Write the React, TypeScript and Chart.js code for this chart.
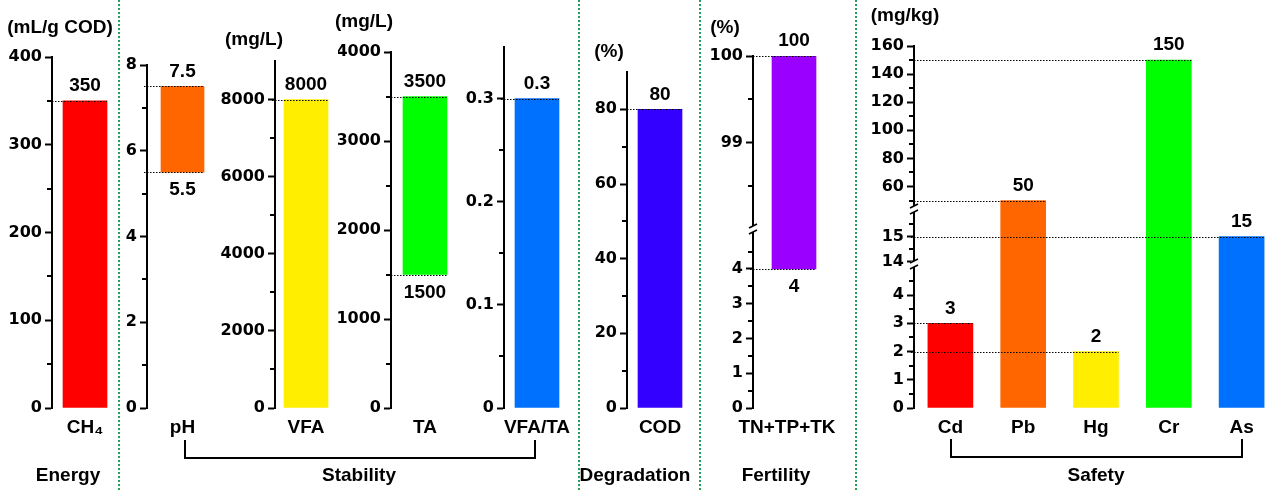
import React, { useEffect, useRef } from 'react';
import { Chart, registerables } from 'chart.js';

Chart.register(...registerables);

// values
const energyCategories = ['CH₄'];
const energyValues = [350];
const energyTicks = [0, 100, 200, 300, 400];

const phCategories = ['pH'];
const phRange: [number, number] = [5.5, 7.5];
const phTicks = [0, 2, 4, 6, 8];

const vfaCategories = ['VFA'];
const vfaValues = [8000];
const vfaTicks = [0, 2000, 4000, 6000, 8000];

const taCategories = ['TA'];
const taRange: [number, number] = [1500, 3500];
const taTicks = [0, 1000, 2000, 3000, 4000];

const ratioCategories = ['VFA/TA'];
const ratioValues = [0.3];
const ratioTicks = [0, 0.1, 0.2, 0.3];

const codCategories = ['COD'];
const codValues = [80];
const codTicks = [0, 20, 40, 60, 80];

const nutrientCategories = ['TN+TP+TK'];
const nutrientRange: [number, number] = [4, 100];
const nutrientTicksLow = [0, 1, 2, 3, 4];
const nutrientTicksHigh = [99, 100];

const metalCategories = ['Cd', 'Pb', 'Hg', 'Cr', 'As'];
const metalValues = [3, 50, 2, 150, 15];
const metalTicksLow = [0, 1, 2, 3, 4];
const metalTicksMid = [14, 15];
const metalTicksHigh = [60, 80, 100, 120, 140, 160];

const unitTexts = ['(mL/g COD)', '(mg/L)', '(mg/L)', '(%)', '(%)', '(mg/kg)'];
const groupTexts = ['Energy', 'Stability', 'Degradation', 'Fertility', 'Safety'];

// layout / style
const unitPos = [[60, 26], [254, 38], [364, 20], [609, 50], [725, 26], [905, 14]];
const groupPos = [[68, 474], [359, 474], [635, 474], [776, 474], [1096, 474]];
const separators = [119, 579, 700, 856];
const brackets = [[184, 440, 352], [950, 439, 293]];

const TEXT_FAMILY = '"Liberation Sans", Arial, "DejaVu Sans", sans-serif';
const TICK_FONT = { family: '"DejaVu Sans", sans-serif', size: 16, weight: 'bold' as const };
const LABEL_FONT = { family: TEXT_FAMILY, size: 19, weight: 'bold' as const };
const BOTTOM = 408;
const H = 490;

type Segment = { min: number; max: number; ticks: number[]; minor: number; weight: number };
type Panel = {
  left: number; axisX: number; right: number; top: number; barWidth: number; labelOffset: number;
  categories: string[]; bars: [number, number][]; colors: string[]; segments: Segment[];
};

const fromZero = (vals: number[]) => vals.map((v) => [0, v] as [number, number]);

const panels: Panel[] = [
  { left: 0, axisX: 52, right: 118, top: 57, barWidth: 44, labelOffset: 0,
    categories: energyCategories, bars: fromZero(energyValues), colors: ['#FF0000'],
    segments: [{ min: 0, max: 400, ticks: energyTicks, minor: 50, weight: 1 }] },
  { left: 120, axisX: 147, right: 218, top: 65, barWidth: 43, labelOffset: 0,
    categories: phCategories, bars: [phRange], colors: ['#FF6600'],
    segments: [{ min: 0, max: 8, ticks: phTicks, minor: 1, weight: 1 }] },
  { left: 219, axisX: 275, right: 337, top: 61, barWidth: 44, labelOffset: 0,
    categories: vfaCategories, bars: fromZero(vfaValues), colors: ['#FFEE00'],
    segments: [{ min: 0, max: 9000, ticks: vfaTicks, minor: 1000, weight: 1 }] },
  { left: 338, axisX: 391, right: 459, top: 52, barWidth: 44, labelOffset: 0,
    categories: taCategories, bars: [taRange], colors: ['#00FF00'],
    segments: [{ min: 0, max: 4000, ticks: taTicks, minor: 500, weight: 1 }] },
  { left: 460, axisX: 504, right: 570, top: 47, barWidth: 44, labelOffset: 0,
    categories: ratioCategories, bars: fromZero(ratioValues), colors: ['#0070FF'],
    segments: [{ min: 0, max: 0.35, ticks: ratioTicks, minor: 0.05, weight: 1 }] },
  { left: 581, axisX: 627, right: 693, top: 72, barWidth: 44, labelOffset: 0,
    categories: codCategories, bars: fromZero(codValues), colors: ['#3300FF'],
    segments: [{ min: 0, max: 90, ticks: codTicks, minor: 10, weight: 1 }] },
  { left: 702, axisX: 753, right: 835, top: 56, barWidth: 44, labelOffset: -7,
    categories: nutrientCategories, bars: [nutrientRange], colors: ['#9900FF'],
    segments: [
      { min: 0, max: 5.15, ticks: nutrientTicksLow, minor: 0.5, weight: 179 },
      { min: 98, max: 100, ticks: nutrientTicksHigh, minor: 0.5, weight: 173 },
    ] },
  { left: 858, axisX: 914, right: 1277.5, top: 46, barWidth: 45, labelOffset: 0,
    categories: metalCategories, bars: fromZero(metalValues),
    colors: ['#FF0000', '#FF6600', '#FFEE00', '#00FF00', '#0070FF'],
    segments: [
      { min: 0, max: 5.1, ticks: metalTicksLow, minor: 0.5, weight: 144 },
      { min: 13.9, max: 16.1, ticks: metalTicksMid, minor: 0.5, weight: 55 },
      { min: 44, max: 160, ticks: metalTicksHigh, minor: 10, weight: 163 },
    ] },
];

const PAD_RIGHT = 40;

function minorValues(seg: Segment) {
  const out: number[] = [];
  const eps = seg.minor * 0.3;
  for (let k = Math.ceil(seg.min / seg.minor); k * seg.minor <= seg.max; k++) {
    const v = Math.round(k * seg.minor * 1000) / 1000;
    if (v <= seg.min + eps || v >= seg.max - eps) continue;
    if (seg.ticks.some((t) => Math.abs(t - v) < 1e-9)) continue;
    out.push(v);
  }
  return out;
}

function decorPlugin(panel: Panel) {
  const segOf = (v: number) => panel.segments.findIndex((s) => v >= s.min && v <= s.max);
  const pixelOf = (chart: any, v: number) => chart.scales['y' + segOf(v)].getPixelForValue(v);
  return {
    id: 'decor',
    afterDatasetsDraw(chart: any) {
      const ctx = chart.ctx;
      const axisRight = chart.scales.y0.right;
      ctx.save();
      ctx.strokeStyle = '#000';
      ctx.lineWidth = 1;
      ctx.setLineDash([1.5, 1.5]);
      panel.bars.forEach(([lo, hi], j) => {
        const el = chart.getDatasetMeta(segOf(hi)).data[j];
        const barRight = el.x + el.width / 2;
        const vals = lo > 0 ? [hi, lo] : [hi];
        vals.forEach((v) => {
          const y = Math.round(pixelOf(chart, v)) + 0.5;
          ctx.beginPath();
          ctx.moveTo(axisRight - 3, y);
          ctx.lineTo(barRight, y);
          ctx.stroke();
        });
      });
      ctx.restore();
    },
    afterDraw(chart: any) {
      const ctx = chart.ctx;
      ctx.save();
      ctx.strokeStyle = '#000';
      ctx.lineWidth = 2;
      panel.segments.forEach((seg, i) => {
        const s = chart.scales['y' + i];
        minorValues(seg).forEach((v) => {
          const y = Math.round(s.getPixelForValue(v));
          ctx.beginPath();
          ctx.moveTo(s.right - 5, y);
          ctx.lineTo(s.right, y);
          ctx.stroke();
        });
      });
      // axis breaks
      for (let i = 1; i < panel.segments.length; i++) {
        const s = chart.scales['y' + (i - 1)];
        const by = s.top;
        const r = s.right;
        ctx.fillStyle = '#fff';
        ctx.fillRect(r - 3, by - 3, 6, 6);
        ctx.lineWidth = 1.6;
        ctx.beginPath();
        ctx.moveTo(r - 4, by - 1);
        ctx.lineTo(r + 4, by - 5);
        ctx.moveTo(r - 4, by + 5);
        ctx.lineTo(r + 4, by + 1);
        ctx.stroke();
      }
      // value labels
      ctx.fillStyle = '#000';
      ctx.font = `bold 19px ${TEXT_FAMILY}`;
      ctx.textAlign = 'center';
      ctx.textBaseline = 'middle';
      const xs = chart.scales.x;
      panel.bars.forEach(([lo, hi], j) => {
        const x = xs.getPixelForValue(j);
        ctx.fillText(String(hi), x, pixelOf(chart, hi) - 15);
        if (lo > 0) ctx.fillText(String(lo), x, pixelOf(chart, lo) + 18);
      });
      ctx.restore();
    },
  };
}

function buildConfig(panel: Panel): any {
  const multi = panel.segments.length > 1;
  const scales: any = {
    x: {
      type: 'category',
      offset: true,
      grid: { display: false, drawTicks: false },
      border: { display: false },
      ticks: {
        font: LABEL_FONT, color: '#000', padding: 8, maxRotation: 0, minRotation: 0,
        autoSkip: false, labelOffset: panel.labelOffset,
      },
      afterFit: (s: any) => { s.height = H - BOTTOM; },
    },
  };
  panel.segments.forEach((seg, i) => {
    scales['y' + i] = {
      type: 'linear',
      position: 'left',
      min: seg.min,
      max: seg.max,
      ...(multi ? { stack: 'broken', stackWeight: seg.weight } : {}),
      afterBuildTicks: (s: any) => { s.ticks = seg.ticks.map((value) => ({ value })); },
      afterFit: (s: any) => { s.width = panel.axisX - panel.left; },
      ticks: { font: TICK_FONT, color: '#000', padding: 3, autoSkip: false, callback: (v: number) => String(v) },
      grid: { display: true, drawOnChartArea: false, drawTicks: true, tickLength: 7, tickWidth: 2, tickColor: '#000' },
      border: { display: true, color: '#000', width: 2 },
    };
  });
  const datasets = panel.segments.map((seg, i) => ({
    xAxisID: 'x',
    yAxisID: 'y' + i,
    data: panel.bars.map(([lo, hi]) =>
      hi <= seg.min || lo >= seg.max ? null : [Math.max(lo, seg.min), Math.min(hi, seg.max)]),
    backgroundColor: panel.colors,
    borderWidth: 0,
    barThickness: panel.barWidth,
    grouped: false,
  }));
  return {
    type: 'bar',
    data: { labels: panel.categories, datasets },
    options: {
      animation: false,
      responsive: false,
      events: [],
      layout: { padding: { top: panel.top, right: PAD_RIGHT, bottom: 0, left: 0 } },
      plugins: { legend: { display: false }, tooltip: { enabled: false } },
      scales,
    },
    plugins: [decorPlugin(panel)],
  };
}

function PanelChart({ panel }: { panel: Panel }) {
  const ref = useRef<HTMLCanvasElement>(null);
  useEffect(() => {
    if (!ref.current) return;
    const chart = new Chart(ref.current, buildConfig(panel));
    return () => chart.destroy();
  }, [panel]);
  const width = Math.ceil(panel.right + PAD_RIGHT - panel.left);
  return (
    <canvas ref={ref} width={width} height={H}
      style={{ position: 'absolute', left: panel.left, top: 0 }} />
  );
}

const textStyle: React.CSSProperties = {
  position: 'absolute', transform: 'translate(-50%, -50%)', whiteSpace: 'nowrap',
  fontFamily: TEXT_FAMILY, fontWeight: 'bold', fontSize: 19, lineHeight: 1, color: '#000',
};

export default function App() {
  return (
    <div style={{ position: 'fixed', left: 0, top: 0, width: 1269, height: H, background: '#fff', overflow: 'hidden' }}>
      {panels.map((p, i) => <PanelChart key={i} panel={p} />)}
      {separators.map((x, i) => (
        <div key={'s' + i} style={{ position: 'absolute', left: x - 1, top: 0, height: H, borderLeft: '2px dotted #23A455' }} />
      ))}
      {brackets.map(([x, y, w], i) => (
        <div key={'b' + i} style={{
          position: 'absolute', left: x, top: y, width: w, height: 19, boxSizing: 'border-box',
          borderLeft: '2px solid #000', borderRight: '2px solid #000', borderBottom: '2px solid #000',
        }} />
      ))}
      {unitTexts.map((t, i) => (
        <div key={'u' + i} style={{ ...textStyle, left: unitPos[i][0], top: unitPos[i][1] }}>{t}</div>
      ))}
      {groupTexts.map((t, i) => (
        <div key={'g' + i} style={{ ...textStyle, left: groupPos[i][0], top: groupPos[i][1] }}>{t}</div>
      ))}
    </div>
  );
}
